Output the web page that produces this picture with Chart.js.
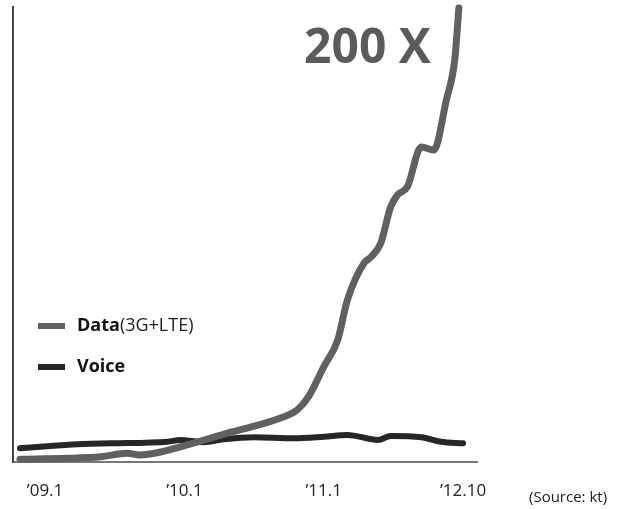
<!DOCTYPE html>
<html>
<head>
<meta charset="utf-8">
<script src="https://cdn.jsdelivr.net/npm/chart.js@4/dist/chart.umd.min.js"></script>
<style>
  html, body { margin: 0; padding: 0; background: #fff; }
  #wrap { position: relative; width: 621px; height: 509px; }
  #headline { position: absolute; left: 304px; top: 12px; font: bold 48px "Open Sans", sans-serif; color: #5b5b5b; }
  #source { position: absolute; left: 529px; top: 486px; font: 15px "Open Sans", sans-serif; color: #222; }
</style>
</head>
<body>
<div id="wrap">
  <canvas id="c" width="621" height="509"></canvas>
  <div id="headline">200 X</div>
  <div id="source">(Source: kt)</div>
</div>
<script>
// Tick labels shown along the time axis (one per position 0..3)
const tickLabels = ["\u201909.1", "\u201910.1", "\u201911.1", "\u201912.10"];

// Mobile data traffic (3G+LTE), relative index
const dataX = [-0.18, 0.16, 0.40, 0.59, 0.68, 0.83, 0.97, 1.19, 1.31, 1.48, 1.71, 1.81, 1.89, 2.00, 2.10, 2.17, 2.29, 2.34, 2.41, 2.48, 2.53, 2.60, 2.70, 2.79, 2.88, 2.94, 2.97];
const dataY = [1.2, 1.6, 2.3, 3.8, 3.1, 4.4, 6.7, 10.5, 12.7, 15.4, 19.8, 22.9, 28.6, 41.8, 53.6, 71.2, 87.5, 90.1, 96.3, 112.1, 117.4, 120.9, 138.5, 137.1, 159.1, 176.7, 199.6];

// Voice traffic, relative index
const voiceX = [-0.18, 0.04, 0.27, 0.47, 0.88, 0.97, 1.14, 1.28, 1.50, 1.78, 2.00, 2.17, 2.39, 2.48, 2.70, 2.84, 3.00];
const voiceY = [6.0, 7.0, 7.9, 8.2, 8.9, 9.7, 8.7, 10.0, 10.9, 10.4, 11.1, 11.9, 9.7, 11.4, 10.9, 8.9, 8.2];

const seriesNames = ["Data", "Voice"];
const seriesNotes = ["(3G+LTE)", ""];

const toPoints = (xs, ys) => xs.map((x, i) => ({ x: x, y: ys[i] }));

// Legend drawn inside the plot: line swatch, bold name, plain note
const inlineLegend = {
  id: 'inlineLegend',
  afterDatasetsDraw(chart) {
    const ctx = chart.ctx;
    const rows = [326, 367];
    ctx.save();
    chart.data.datasets.forEach((ds, i) => {
      const y = rows[i];
      ctx.strokeStyle = ds.borderColor;
      ctx.lineWidth = 6;
      ctx.lineCap = 'butt';
      ctx.beginPath();
      ctx.moveTo(38, y);
      ctx.lineTo(65, y);
      ctx.stroke();
      ctx.textBaseline = 'middle';
      ctx.fillStyle = '#111';
      ctx.font = 'bold 18px "Open Sans", sans-serif';
      ctx.fillText(seriesNames[i], 77, y);
      const w = ctx.measureText(seriesNames[i]).width;
      if (seriesNotes[i]) {
        ctx.font = '18px "Open Sans", sans-serif';
        ctx.fillStyle = '#222';
        ctx.fillText(seriesNotes[i], 77 + w, y);
      }
    });
    ctx.restore();
  }
};

new Chart(document.getElementById('c'), {
  type: 'line',
  data: {
    datasets: [
      {
        label: seriesNames[0],
        data: toPoints(dataX, dataY),
        borderColor: '#606060',
        borderWidth: 7,
        borderCapStyle: 'round',
        borderJoinStyle: 'round',
        pointRadius: 0,
        cubicInterpolationMode: 'monotone',
        clip: false
      },
      {
        label: seriesNames[1],
        data: toPoints(voiceX, voiceY),
        borderColor: '#262626',
        borderWidth: 6,
        borderCapStyle: 'round',
        borderJoinStyle: 'round',
        pointRadius: 0,
        cubicInterpolationMode: 'monotone',
        clip: false
      }
    ]
  },
  options: {
    responsive: false,
    animation: false,
    events: [],
    layout: { padding: { left: 13, top: 7, right: 144, bottom: 7 } },
    plugins: { legend: { display: false }, tooltip: { enabled: false } },
    scales: {
      x: {
        type: 'linear',
        min: -0.23,
        max: 3.1,
        afterBuildTicks(scale) {
          scale.ticks = tickLabels.map((_, i) => ({ value: i }));
        },
        afterFit(scale) {
          scale.height = 40;
        },
        ticks: {
          callback: (v) => tickLabels[v],
          color: '#222',
          font: { family: '"Open Sans", sans-serif', size: 17 },
          padding: 19,
          maxRotation: 0,
          autoSkip: false
        },
        grid: { display: false, drawTicks: false },
        border: { display: true, color: '#777', width: 2 }
      },
      y: {
        min: 0,
        max: 200,
        ticks: { display: false },
        grid: { display: false, drawTicks: false },
        border: { display: true, color: '#444', width: 2 }
      }
    }
  },
  plugins: [inlineLegend]
});
</script>
</body>
</html>
